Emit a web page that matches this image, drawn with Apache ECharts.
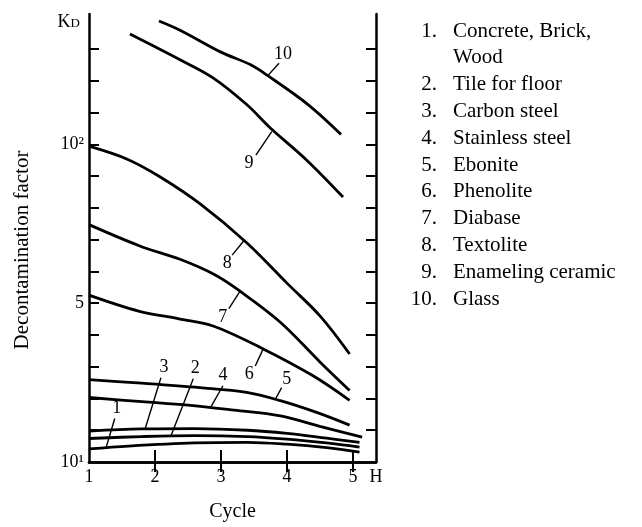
<!DOCTYPE html>
<html><head><meta charset="utf-8">
<script src="https://cdn.jsdelivr.net/npm/echarts@6/dist/echarts.min.js"></script>
<style>html,body{margin:0;padding:0;background:#fff}#c{width:642px;height:527px}</style>
</head><body><div id="c"></div>
<script>
// ---- data ----
const materials = ['Concrete, Brick,\nWood', 'Tile for floor', 'Carbon steel', 'Stainless steel', 'Ebonite', 'Phenolite', 'Diabase', 'Textolite', 'Enameling ceramic', 'Glass'];
const curveNames = ['1','2','3','4','5','6','7','8','9','10'];
// [cycle, position on the K_D scale in tick units]
const c1  = [[1,0.41],[1.6,0.50],[2.6,0.60],[3.4,0.62],[4.0,0.56],[4.6,0.45],[5.1,0.31]];
const c2  = [[1,0.74],[1.8,0.80],[2.6,0.83],[3.4,0.80],[4.0,0.72],[4.6,0.60],[5.1,0.47]];
const c3  = [[1,0.97],[1.8,1.04],[2.6,1.05],[3.4,1.00],[4.0,0.90],[4.6,0.75],[5.1,0.62]];
const c4  = [[1,2.03],[1.8,1.90],[2.5,1.79],[3.2,1.63],[3.9,1.45],[4.5,1.12],[5.14,0.78]];
const c5  = [[1,2.59],[1.8,2.48],[2.68,2.34],[3.39,2.19],[3.9,1.93],[4.45,1.56],[4.95,1.16]];
const c6  = [[1,5.25],[1.75,4.75],[2.38,4.50],[2.88,4.28],[3.64,3.56],[4.39,2.72],[4.95,1.94]];
const c7  = [[1,7.47],[1.77,6.80],[2.38,6.38],[2.9,5.90],[3.3,5.36],[3.9,4.40],[4.5,3.15],[4.95,2.25]];
const c8  = [[1,9.94],[1.58,9.53],[2.08,8.97],[2.68,8.13],[3.39,6.90],[4.0,5.63],[4.5,4.60],[4.95,3.40]];
const c9  = [[1.62,13.47],[2.38,12.66],[2.88,12.09],[3.39,11.25],[3.74,10.53],[4.3,9.50],[4.85,8.34]];
const c10 = [[2.06,13.88],[2.38,13.59],[3.0,12.90],[3.45,12.50],[3.71,12.16],[4.32,11.25],[4.82,10.31]];
const curves = [c1,c2,c3,c4,c5,c6,c7,c8,c9,c10];
// leader lines: [from on curve, to label]
const leaders = [
  [[1.26,0.46],[1.39,1.37]],
  [[2.24,0.81],[2.58,2.62]],
  [[1.85,1.04],[2.09,2.65]],
  [[2.85,1.74],[3.03,2.40]],
  [[3.82,1.96],[3.92,2.34]],
  [[3.64,3.56],[3.52,3.02]],
  [[3.29,5.38],[3.12,4.83]],
  [[3.35,6.97],[3.17,6.51]],
  [[3.77,10.40],[3.53,9.66]],
  [[3.71,12.16],[3.88,12.55]]
];
const xTickLabels = ['1','2','3','4','5'];
const xEndLabel = 'H';
const yTickValues = [0,5,10];
const yTickLabels = ['10¹','5','10²'];

// ---- chart ----
const FONT = '"Liberation Serif", "Times New Roman", serif';
const chart = echarts.init(document.getElementById('c'), null, {renderer:'canvas'});
const lblPos = ['top','top','top','top','top','bottom','bottom','bottom','bottom','top'];
const lblOff = [[2,0],[2,0],[3,0],[0,0],[5,2],[-6,-2],[-6,-2],[-5,-2],[-7,-2],[4,2]];

const series = [];
curves.forEach((c,i)=>{
  series.push({type:'line', name:curveNames[i], data:c, smooth:0.35, symbol:'none',
    lineStyle:{color:'#000', width:2.8}, silent:true, z:3});
});
leaders.forEach((ld,i)=>{
  series.push({type:'line', data:[
      {value:ld[0]},
      {value:ld[1], label:{show:true, formatter:curveNames[i], position:lblPos[i], offset:lblOff[i], distance:1,
        color:'#000', fontFamily:FONT, fontSize:18}}
    ],
    symbol:'circle', symbolSize:1, showSymbol:true, itemStyle:{color:'rgba(0,0,0,0)'},
    lineStyle:{color:'#000', width:1.4}, silent:true, z:4});
});

const rows = [];
materials.forEach((m,i)=>{
  m.split('\n').forEach((t,j)=>rows.push({num: j===0 ? (i+1)+'.' : '', text:t}));
});
const graphic = [];
rows.forEach((r,k)=>{
  const y = 31 + k*26.8;
  if (r.num) graphic.push({type:'text', x:437, y:y, style:{text:r.num, align:'right', verticalAlign:'middle', font:'21px '+FONT, fill:'#000'}});
  graphic.push({type:'text', x:453, y:y, style:{text:r.text, align:'left', verticalAlign:'middle', font:'21px '+FONT, fill:'#000'}});
});
graphic.push({type:'text', x:80, y:22, style:{text:'{k|K}{d|D}', align:'right', verticalAlign:'middle',
  rich:{k:{fontSize:18, fontFamily:FONT, fill:'#000', color:'#000'}, d:{fontSize:13, fontFamily:FONT, color:'#000', padding:[3,0,0,0]}}}});

const axLine = {show:true, lineStyle:{color:'#000', width:2.5}};
chart.setOption({
  animation:false,
  backgroundColor:'#fff',
  grid:{left:89, right:266, top:14, bottom:60},
  xAxis:[
    {type:'value', min:1, max:5.35, position:'bottom', axisLine:axLine,
     axisTick:{show:true, inside:true, length:12, lineStyle:{color:'#000', width:2}, customValues:[2,3,4,5]},
     axisLabel:{customValues:[1,2,3,4,5,5.35], formatter:v=> v>5.2 ? xEndLabel : xTickLabels[Math.round(v)-1],
       color:'#000', fontFamily:FONT, fontSize:18, margin:6},
     splitLine:{show:false},
     name:'Cycle', nameLocation:'middle', nameGap:40, nameTextStyle:{color:'#000', fontFamily:FONT, fontSize:20}},
    {type:'value', min:1, max:5.35, position:'top', axisLine:axLine,
     axisTick:{show:true, inside:true, length:10, lineStyle:{color:'#000', width:2}, customValues:[2,3,4,5]},
     axisLabel:{show:false}, splitLine:{show:false}}
  ],
  yAxis:[
    {type:'value', min:0, max:14.1, position:'left', axisLine:axLine,
     axisTick:{show:true, inside:true, length:10, lineStyle:{color:'#000', width:2}, customValues:[1,2,3,4,5,6,7,8,9,10,11,12,13]},
     axisLabel:{customValues:yTickValues, formatter:v=>{const i=yTickValues.indexOf(Math.round(v)); return i>=0? yTickLabels[i]:'';},
       color:'#000', fontFamily:FONT, fontSize:18, margin:5},
     splitLine:{show:false},
     name:'Decontamination factor', nameLocation:'middle', nameGap:56,
     nameTextStyle:{color:'#000', fontFamily:FONT, fontSize:21, padding:[0,24,0,0]}},
    {type:'value', min:0, max:14.1, position:'right', axisLine:axLine,
     axisTick:{show:true, inside:true, length:10, lineStyle:{color:'#000', width:2}, customValues:[1,2,3,4,5,6,7,8,9,10,11,12,13]},
     axisLabel:{show:false}, splitLine:{show:false}}
  ],
  graphic:graphic,
  series:series
});
</script></body></html>
